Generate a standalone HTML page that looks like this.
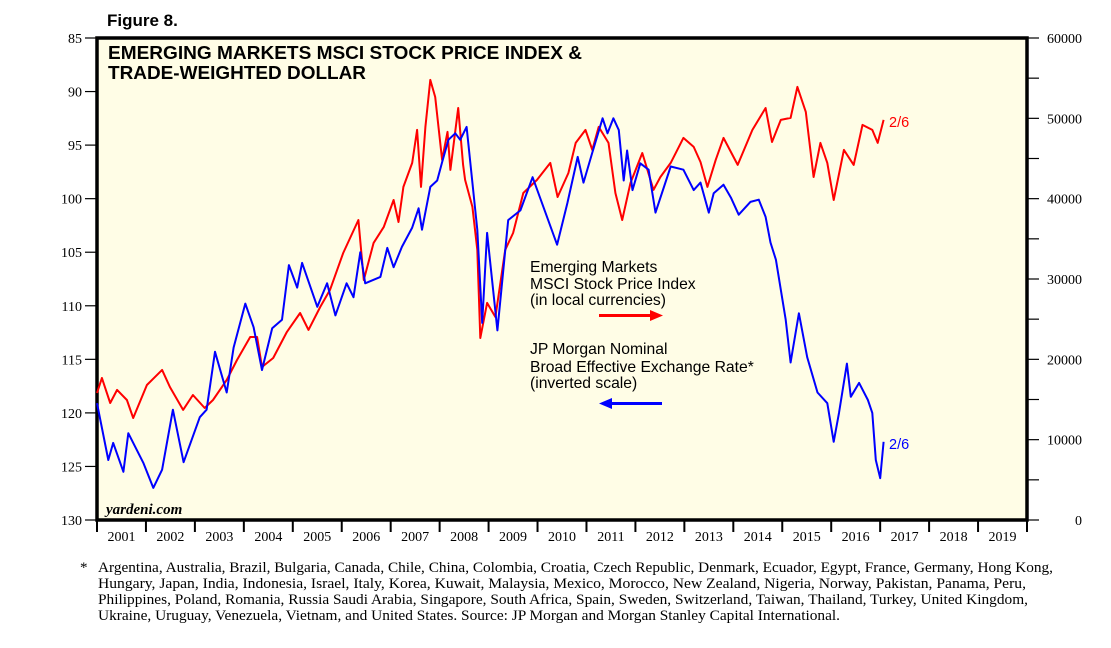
<!DOCTYPE html>
<html><head><meta charset="utf-8">
<style>
body{margin:0;background:#fff;width:1111px;height:648px;overflow:hidden}
svg{display:block}
.ax{font-family:"Liberation Serif",serif;font-size:14px;fill:#000}
.sans{font-family:"Liberation Sans",sans-serif}
</style></head><body>
<svg id="chart" width="1111" height="648" xmlns="http://www.w3.org/2000/svg">
<text x="107" y="26" class="sans" font-size="17" font-weight="bold">Figure 8.</text>
<rect x="97" y="38" width="930" height="482" fill="#fffde6" stroke="#000" stroke-width="3.5"/>
<text class="sans" font-size="18.5" font-weight="bold"><tspan x="108" y="59" textLength="474" lengthAdjust="spacingAndGlyphs">EMERGING MARKETS MSCI STOCK PRICE INDEX &amp;</tspan><tspan x="108" y="79" textLength="258" lengthAdjust="spacingAndGlyphs">TRADE-WEIGHTED DOLLAR</tspan></text>
<g id="axes"></g>
<g id="series"></g>
<text x="106" y="514" font-family="Liberation Serif,serif" font-size="15" font-style="italic" font-weight="bold">yardeni.com</text>
<g class="sans" font-size="15.7">
<text x="530" y="272">Emerging Markets</text>
<text x="530" y="289">MSCI Stock Price Index</text>
<text x="530" y="305">(in local currencies)</text>
<line x1="599" y1="315.5" x2="652" y2="315.5" stroke="#ff0000" stroke-width="3"/>
<polygon points="650,310 663,315.5 650,321" fill="#ff0000"/>
<text x="530" y="354">JP Morgan Nominal</text>
<text x="530" y="372">Broad Effective Exchange Rate*</text>
<text x="530" y="388">(inverted scale)</text>
<line x1="610" y1="403.5" x2="662" y2="403.5" stroke="#0000ff" stroke-width="3"/>
<polygon points="612,398 599,403.5 612,409" fill="#0000ff"/>
</g>
<text x="889" y="127" class="sans" font-size="14.5" fill="#ff0000">2/6</text>
<text x="889" y="449" class="sans" font-size="14.5" fill="#0000ff">2/6</text>
<text font-family="Liberation Serif,serif" font-size="15">
<tspan x="80" y="572">*</tspan>
<tspan x="98" y="572" textLength="955" lengthAdjust="spacingAndGlyphs">Argentina, Australia, Brazil, Bulgaria, Canada, Chile, China, Colombia, Croatia, Czech Republic, Denmark, Ecuador, Egypt, France, Germany, Hong Kong,</tspan>
<tspan x="98" y="588" textLength="928" lengthAdjust="spacingAndGlyphs">Hungary, Japan, India, Indonesia, Israel, Italy, Korea, Kuwait, Malaysia, Mexico, Morocco, New Zealand, Nigeria, Norway, Pakistan, Panama, Peru,</tspan>
<tspan x="98" y="604" textLength="930" lengthAdjust="spacingAndGlyphs">Philippines, Poland, Romania, Russia Saudi Arabia, Singapore, South Africa, Spain, Sweden, Switzerland, Taiwan, Thailand, Turkey, United Kingdom,</tspan>
<tspan x="98" y="620" textLength="742" lengthAdjust="spacingAndGlyphs">Ukraine, Uruguay, Venezuela, Vietnam, and United States. Source: JP Morgan and Morgan Stanley Capital International.</tspan>
</text>
</svg>
<script>
const years=[2001,2002,2003,2004,2005,2006,2007,2008,2009,2010,2011,2012,2013,2014,2015,2016,2017,2018,2019];
const leftTicks=[85,90,95,100,105,110,115,120,125,130];
const rightTicks=[0,10000,20000,30000,40000,50000,60000];
const dollarT=[2001.0,2001.23,2001.33,2001.54,2001.64,2001.95,2002.15,2002.33,2002.55,2002.77,2003.1,2003.24,2003.41,2003.65,2003.79,2004.03,2004.2,2004.37,2004.58,2004.78,2004.92,2005.09,2005.19,2005.5,2005.7,2005.87,2006.1,2006.24,2006.38,2006.48,2006.79,2006.93,2007.06,2007.23,2007.44,2007.57,2007.64,2007.81,2007.95,2008.05,2008.18,2008.32,2008.42,2008.55,2008.77,2008.87,2008.97,2009.18,2009.4,2009.65,2009.9,2010.4,2010.61,2010.82,2010.94,2011.12,2011.33,2011.43,2011.55,2011.66,2011.76,2011.83,2011.94,2012.1,2012.27,2012.41,2012.72,2012.98,2013.19,2013.33,2013.5,2013.6,2013.8,2013.95,2014.11,2014.35,2014.52,2014.66,2014.76,2014.87,2014.97,2015.07,2015.17,2015.34,2015.51,2015.72,2015.92,2016.05,2016.16,2016.32,2016.4,2016.57,2016.75,2016.84,2016.91,2017.0,2017.07];
const dollarV=[119.1,124.4,122.8,125.5,121.9,124.7,127.0,125.3,119.7,124.6,120.4,119.7,114.3,118.1,113.9,109.8,112.0,116.0,112.1,111.3,106.2,108.3,106.0,110.1,107.9,110.9,107.9,109.2,105.0,107.9,107.3,104.6,106.4,104.5,102.7,100.9,102.9,98.9,98.3,96.6,94.5,93.9,94.5,93.3,102.9,111.6,103.2,112.3,102.0,101.1,98.0,104.3,100.4,96.1,98.5,95.7,92.5,93.9,92.5,93.6,98.3,95.5,99.2,96.7,97.3,101.3,97.0,97.3,99.2,98.5,101.3,99.5,98.7,99.9,101.5,100.3,100.1,101.7,104.1,105.7,108.5,111.3,115.3,110.7,114.8,118.1,119.1,122.7,120.0,115.4,118.5,117.2,118.8,120.0,124.4,126.1,122.7];
const msciT=[2001.0,2001.1,2001.27,2001.41,2001.61,2001.74,2002.02,2002.33,2002.49,2002.76,2002.96,2003.2,2003.37,2003.65,2003.86,2004.13,2004.27,2004.37,2004.6,2004.88,2005.15,2005.32,2005.56,2005.76,2006.03,2006.34,2006.45,2006.65,2006.86,2007.06,2007.16,2007.26,2007.44,2007.54,2007.62,2007.71,2007.81,2007.91,2008.05,2008.16,2008.22,2008.38,2008.48,2008.52,2008.67,2008.77,2008.83,2008.97,2009.14,2009.34,2009.5,2009.71,2009.99,2010.26,2010.41,2010.63,2010.78,2010.98,2011.12,2011.25,2011.45,2011.59,2011.73,2011.9,2012.14,2012.37,2012.51,2012.72,2012.98,2013.19,2013.33,2013.47,2013.64,2013.8,2014.09,2014.39,2014.66,2014.79,2014.97,2015.17,2015.31,2015.48,2015.64,2015.78,2015.92,2016.05,2016.26,2016.46,2016.64,2016.84,2016.95,2017.07];
const msciV=[15810,17680,14570,16190,14940,12700,16810,18680,16560,13700,15560,13940,14940,17430,19920,22780,22780,19050,20170,23410,25770,23660,26520,28640,33240,37350,29880,34490,36480,39840,37100,41460,44450,48560,41460,48930,54780,52660,44820,48310,43580,51290,44200,42330,38970,33620,22660,27020,25270,33620,35730,40710,42330,44450,40210,43200,46940,48560,46070,48930,46940,40710,37350,41960,45690,41090,42700,44450,47560,46440,44570,41460,44820,47560,44200,48560,51290,47060,49800,50050,53910,50800,42700,46940,44450,39840,46070,44200,49180,48560,46940,49800];

const X0=97,X1=1027,Y0=38,Y1=520,NS='http://www.w3.org/2000/svg';
const xs=t=>X0+(t-2001)/19*(X1-X0);
const yl=v=>Y0+(v-85)/45*(Y1-Y0);
const yr=v=>Y1-v/60000*(Y1-Y0);
function mk(tag,attrs,parent){const e=document.createElementNS(NS,tag);for(const k in attrs)e.setAttribute(k,attrs[k]);parent.appendChild(e);return e;}
const axes=document.getElementById('axes');
leftTicks.forEach(v=>{
  const l=mk('line',{x1:85,x2:97,y1:yl(v),y2:yl(v),stroke:'#000','stroke-width':1.2},axes);
  
  
  const t=mk('text',{x:82,y:yl(v)+5,'text-anchor':'end',class:'ax'},axes);t.textContent=v;
  
  
});
for(let v=0;v<=60000;v+=5000){
  const l=mk('line',{x1:1027,x2:1039,y1:yr(v),y2:yr(v),stroke:'#000','stroke-width':1.2},axes);
  
  
}
rightTicks.forEach(v=>{
  const t=mk('text',{x:1082,y:yr(v)+5,'text-anchor':'end',class:'ax'},axes);t.textContent=v;
  
  
});
years.forEach(y=>{
  const l=mk('line',{x1:xs(y),x2:xs(y),y1:520,y2:532,stroke:'#000','stroke-width':2},axes);
  
  
  const t=mk('text',{x:xs(y+0.5),y:541,'text-anchor':'middle',class:'ax'},axes);t.textContent=y;
  
  
});
mk('line',{x1:X1,x2:X1,y1:520,y2:532,stroke:'#000','stroke-width':2},axes);
const ser=document.getElementById('series');
const pm=msciT.map((t,i)=>(i?'L':'M')+xs(t).toFixed(1)+','+yr(msciV[i]).toFixed(1)).join('');
const p1=mk('path',{d:pm,fill:'none',stroke:'#ff0000','stroke-width':2,'stroke-linejoin':'round'},ser);


const pd=dollarT.map((t,i)=>(i?'L':'M')+xs(t).toFixed(1)+','+yl(dollarV[i]).toFixed(1)).join('');
const p2=mk('path',{d:pd,fill:'none',stroke:'#0000ff','stroke-width':2,'stroke-linejoin':'round'},ser);


</script>
</body></html>
